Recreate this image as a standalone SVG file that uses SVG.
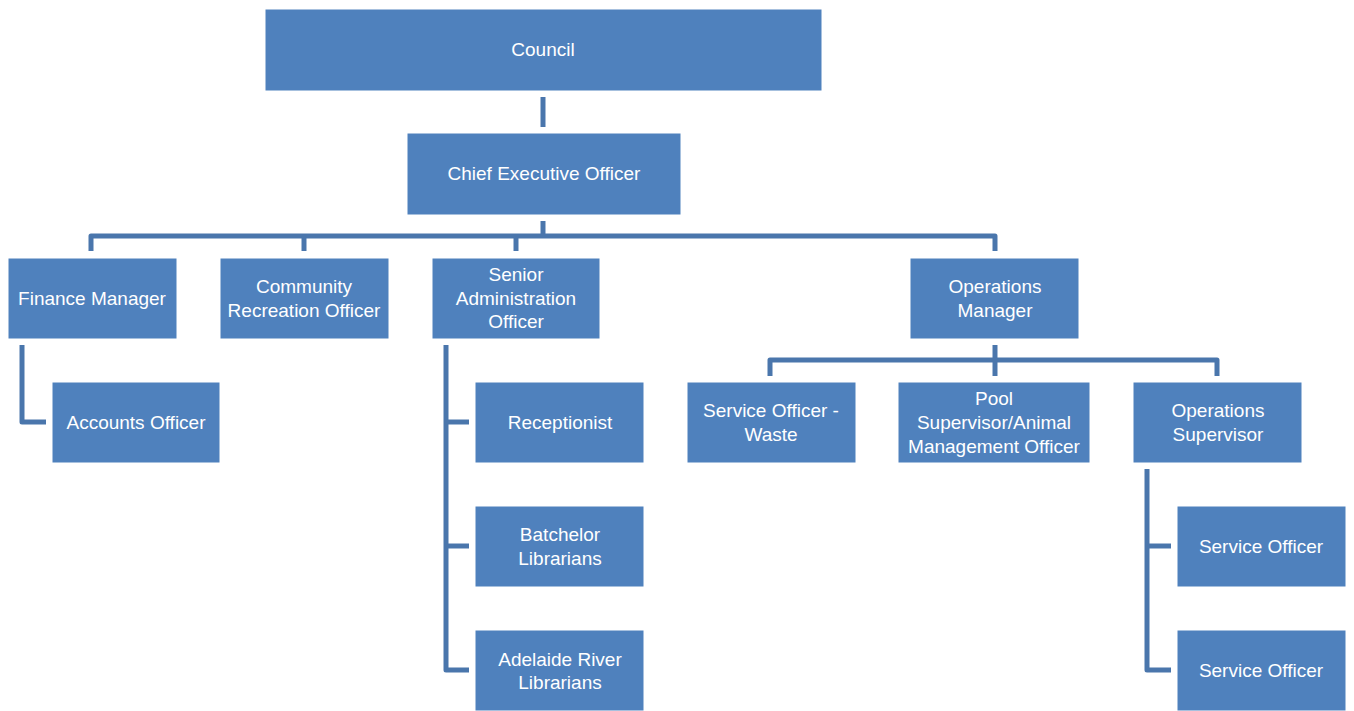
<svg xmlns="http://www.w3.org/2000/svg" width="1354" height="711" viewBox="0 0 1354 711">
<style>
.n{fill:#4F81BD;stroke:#ffffff;stroke-width:1}
.t{font-family:"Liberation Sans",Arial,sans-serif;font-size:19px;fill:#ffffff;text-anchor:middle}
.c{fill:none;stroke:#4A76AC;stroke-width:5;stroke-linejoin:round}
</style>
<rect width="1354" height="711" fill="#ffffff"/>
<g id="connectors">
<path class="c" d="M543,97 V127"/>
<path class="c" d="M543,221 V236"/>
<path class="c" d="M91,251 V236 H995 V251"/>
<path class="c" d="M304,236 V251"/>
<path class="c" d="M516,236 V251"/>
<path class="c" d="M22,345 V422 H46"/>
<path class="c" d="M446,345 V670 H469"/>
<path class="c" d="M446,422 H469"/>
<path class="c" d="M446,546 H469"/>
<path class="c" d="M995,345 V360"/>
<path class="c" d="M770,376 V360 H1217 V376"/>
<path class="c" d="M995,360 V376"/>
<path class="c" d="M1147,469 V670 H1171"/>
<path class="c" d="M1147,546 H1171"/>
</g>
<g id="council"><rect class="n" x="265" y="9" width="557" height="82"/><text class="t" x="543" y="56">Council</text></g>
<g id="ceo"><rect class="n" x="407" y="133" width="274" height="82"/><text class="t" x="544" y="180">Chief Executive Officer</text></g>
<g id="finance"><rect class="n" x="8" y="258" width="169" height="81"/><text class="t" x="92" y="305">Finance Manager</text></g>
<g id="community"><rect class="n" x="220" y="258" width="169" height="81"/><text class="t" x="304" y="293">Community</text><text class="t" x="304" y="317">Recreation Officer</text></g>
<g id="senioradmin"><rect class="n" x="432" y="258" width="168" height="81"/><text class="t" x="516" y="281">Senior</text><text class="t" x="516" y="305">Administration</text><text class="t" x="516" y="328">Officer</text></g>
<g id="opsmanager"><rect class="n" x="910" y="258" width="169" height="81"/><text class="t" x="995" y="293">Operations</text><text class="t" x="995" y="317">Manager</text></g>
<g id="accounts"><rect class="n" x="52" y="382" width="168" height="81"/><text class="t" x="136" y="429">Accounts Officer</text></g>
<g id="receptionist"><rect class="n" x="475" y="382" width="169" height="81"/><text class="t" x="560" y="429">Receptionist</text></g>
<g id="batchelor"><rect class="n" x="475" y="506" width="169" height="81"/><text class="t" x="560" y="541">Batchelor</text><text class="t" x="560" y="565">Librarians</text></g>
<g id="adelaide"><rect class="n" x="475" y="630" width="169" height="81"/><text class="t" x="560" y="666">Adelaide River</text><text class="t" x="560" y="689">Librarians</text></g>
<g id="waste"><rect class="n" x="687" y="382" width="169" height="81"/><text class="t" x="771" y="417">Service Officer -</text><text class="t" x="771" y="441">Waste</text></g>
<g id="pool"><rect class="n" x="898" y="382" width="192" height="81"/><text class="t" x="994" y="405">Pool</text><text class="t" x="994" y="429">Supervisor/Animal</text><text class="t" x="994" y="453">Management Officer</text></g>
<g id="opssupervisor"><rect class="n" x="1133" y="382" width="169" height="81"/><text class="t" x="1218" y="417">Operations</text><text class="t" x="1218" y="441">Supervisor</text></g>
<g id="service1"><rect class="n" x="1177" y="506" width="169" height="81"/><text class="t" x="1261" y="553">Service Officer</text></g>
<g id="service2"><rect class="n" x="1177" y="630" width="169" height="81"/><text class="t" x="1261" y="677">Service Officer</text></g>
</svg>
